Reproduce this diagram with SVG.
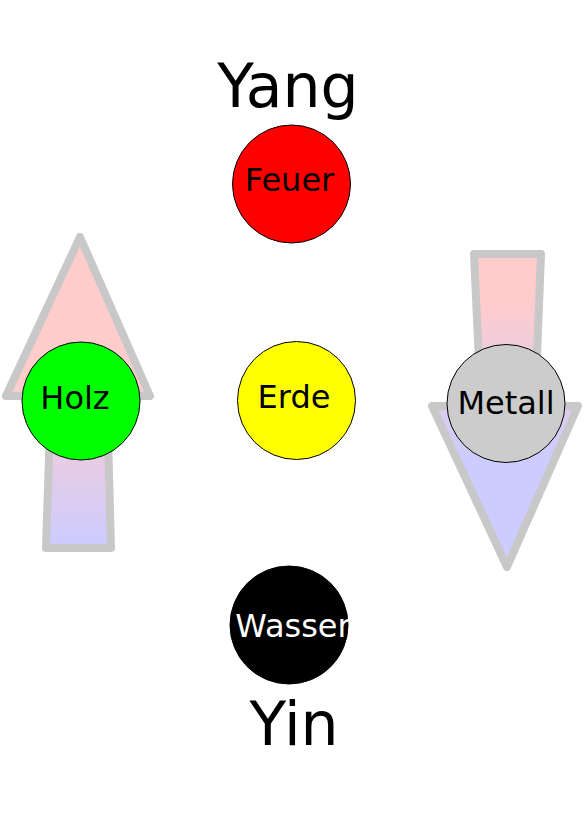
<svg xmlns="http://www.w3.org/2000/svg" width="584" height="817" viewBox="0 0 584 817">
<style>
.arrow{stroke:#c8c8c8;stroke-width:8;stroke-linejoin:round}
.el{stroke:#000;stroke-width:1}
.t{font-family:"DejaVu Sans",sans-serif;font-size:32px;text-anchor:middle}
.big{font-family:"DejaVu Sans",sans-serif;font-size:60px;text-anchor:middle}
</style>
<defs>
<linearGradient id="gUp" gradientUnits="userSpaceOnUse" x1="0" y1="380" x2="0" y2="548">
<stop offset="0" stop-color="#ffcccc"/>
<stop offset="1" stop-color="#ccccff"/>
</linearGradient>
<linearGradient id="gDown" gradientUnits="userSpaceOnUse" x1="0" y1="300" x2="0" y2="460">
<stop offset="0" stop-color="#ffcccc"/>
<stop offset="1" stop-color="#ccccff"/>
</linearGradient>
</defs>
<g id="connectors">
<polygon class="arrow" fill="url(#gUp)" points="80,237 150,396 107,396 111,548 46,548 51,396 6,396"/>
<polygon class="arrow" fill="url(#gDown)" points="474,254 541,254 535,406 578,406 507,567 432,406 481,406"/>
</g>
<g id="yang"><text class="big" x="288" y="107">Yang</text></g>
<g id="yin"><text class="big" x="294" y="745">Yin</text></g>
<g id="feuer"><circle class="el" cx="291.5" cy="184" r="59" fill="#ff0000"/><text class="t" x="289.5" y="191">Feuer</text></g>
<g id="erde"><circle class="el" cx="296.5" cy="400.5" r="59" fill="#ffff00"/><text class="t" x="294" y="408">Erde</text></g>
<g id="holz"><circle class="el" cx="81" cy="401" r="59" fill="#00ff00"/><text class="t" x="75" y="409">Holz</text></g>
<g id="metall"><circle class="el" cx="506" cy="403.5" r="59" fill="#cccccc"/><text class="t" x="506" y="414">Metall</text></g>
<g id="wasser"><circle class="el" cx="289" cy="625" r="59" fill="#000000"/><text class="t" x="293" y="637" fill="#ffffff">Wasser</text></g>
</svg>
